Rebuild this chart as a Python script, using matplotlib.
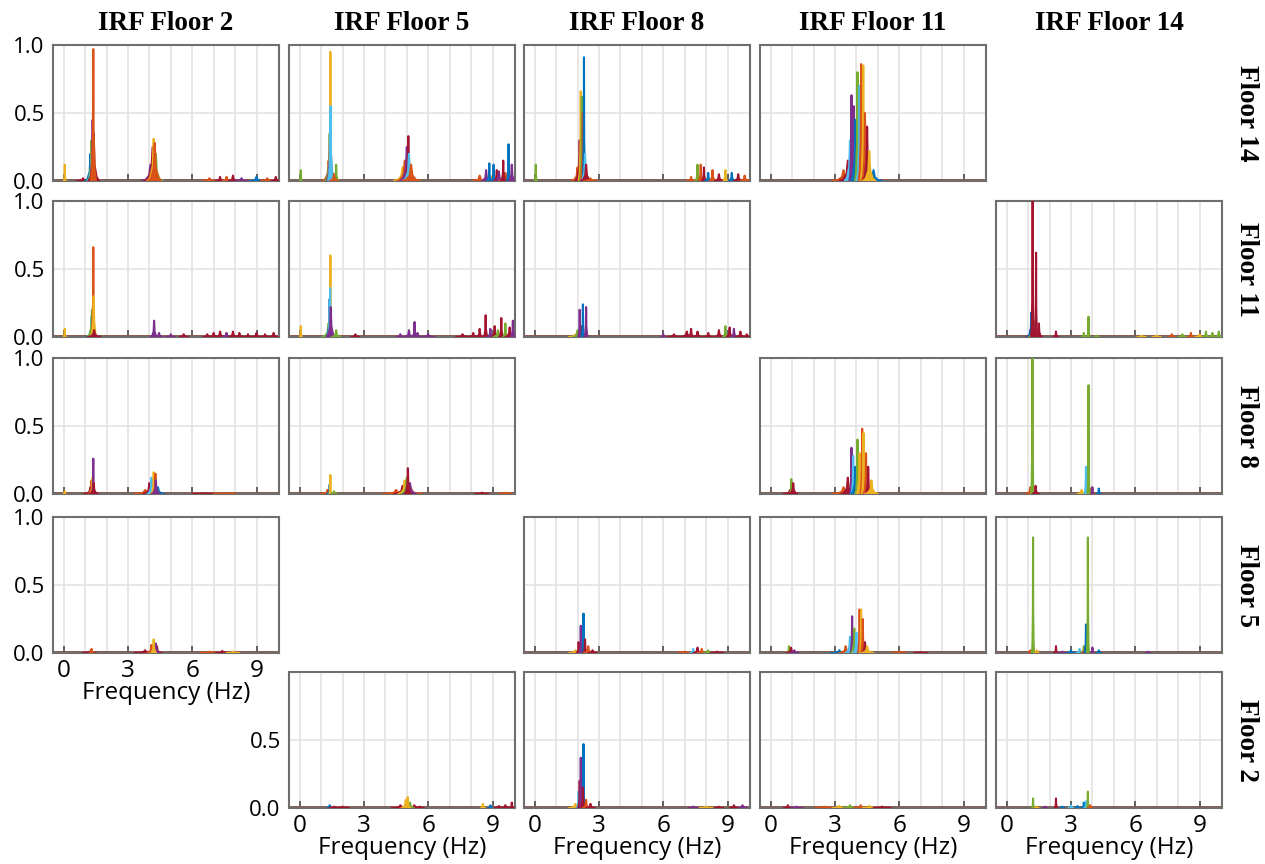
import numpy as np
import matplotlib
matplotlib.use('Agg')
import matplotlib.pyplot as plt

# MATLAB-like line colours
COLORS = ['#0072BD', '#D95319', '#EDB120', '#7E2F8E', '#77AC30', '#4DBEEE', '#A2142F']

col_titles = ['IRF Floor 2', 'IRF Floor 5', 'IRF Floor 8', 'IRF Floor 11', 'IRF Floor 14']
row_titles = ['Floor 14', 'Floor 11', 'Floor 8', 'Floor 5', 'Floor 2']
x_ticks = [0, 3, 6, 9]

# peaks: (frequency Hz, amplitude, half base width Hz, colour index)
f14_i2 = [(0.05, 0.12, 0.05, 2), (0.9, 0.02, 0.3, 6),
          (1.25, 0.20, 0.25, 0), (1.30, 0.30, 0.20, 4), (1.33, 0.25, 0.22, 5), (1.35, 0.45, 0.15, 3),
          (1.40, 0.35, 0.25, 6), (1.38, 0.97, 0.12, 1),
          (4.18, 0.05, 0.4, 0), (4.22, 0.08, 0.4, 5), (4.05, 0.12, 0.4, 3), (4.15, 0.25, 0.35, 6),
          (4.30, 0.20, 0.3, 4), (4.20, 0.31, 0.3, 2), (4.25, 0.28, 0.3, 1),
          (6.8, 0.02, 0.3, 1), (7.3, 0.03, 0.2, 6), (7.6, 0.03, 0.2, 1), (7.9, 0.04, 0.2, 6),
          (8.3, 0.02, 0.3, 3), (9.0, 0.03, 0.3, 0), (9.5, 0.02, 0.3, 1), (9.9, 0.03, 0.2, 6)]
f14_i5 = [(0.05, 0.08, 0.05, 4),
          (1.35, 0.15, 0.3, 1), (1.45, 0.25, 0.25, 0), (1.40, 0.35, 0.2, 4), (1.43, 0.95, 0.08, 2),
          (1.42, 0.42, 0.15, 3), (1.44, 0.55, 0.12, 5),
          (1.7, 0.12, 0.12, 4), (1.6, 0.05, 0.2, 1),
          (5.05, 0.1, 0.5, 4), (4.8, 0.1, 0.4, 2), (4.9, 0.15, 0.35, 1), (5.0, 0.25, 0.3, 3),
          (5.07, 0.33, 0.2, 6), (5.1, 0.2, 0.3, 5), (5.2, 0.12, 0.4, 1),
          (8.4, 0.04, 0.3, 1), (9.0, 0.04, 0.4, 2), (8.7, 0.08, 0.2, 3), (8.85, 0.13, 0.1, 0),
          (9.05, 0.12, 0.1, 0), (9.2, 0.08, 0.15, 6), (9.3, 0.07, 0.2, 3), (9.6, 0.06, 0.3, 1),
          (9.5, 0.15, 0.1, 6), (9.75, 0.27, 0.08, 0), (9.9, 0.12, 0.15, 3)]
f14_i8 = [(0.05, 0.12, 0.05, 4),
          (2.2, 0.15, 0.35, 3), (2.0, 0.1, 0.3, 1), (2.1, 0.3, 0.2, 6), (2.15, 0.66, 0.1, 2),
          (2.2, 0.62, 0.1, 4), (2.25, 0.5, 0.12, 1), (2.3, 0.91, 0.06, 0), (2.35, 0.2, 0.2, 5),
          (2.4, 0.12, 0.25, 6), (2.6, 0.02, 0.3, 1),
          (7.3, 0.03, 0.2, 1), (7.6, 0.12, 0.1, 4), (7.75, 0.12, 0.12, 1), (7.9, 0.1, 0.1, 6),
          (8.1, 0.06, 0.15, 0), (8.3, 0.08, 0.15, 1), (8.6, 0.05, 0.2, 6), (8.9, 0.08, 0.1, 2),
          (9.2, 0.06, 0.15, 0), (9.5, 0.05, 0.2, 6), (9.8, 0.04, 0.2, 1)]
f14_i11 = [(3.4, 0.08, 0.5, 1), (4.8, 0.08, 0.4, 0), (4.2, 0.25, 0.5, 6), (3.6, 0.15, 0.4, 6),
           (3.7, 0.3, 0.25, 5), (3.77, 0.63, 0.1, 3), (3.88, 0.55, 0.1, 3), (3.95, 0.45, 0.2, 0),
           (4.05, 0.8, 0.12, 4), (4.15, 0.7, 0.15, 5), (4.22, 0.86, 0.12, 1), (4.32, 0.85, 0.12, 2),
           (4.4, 0.5, 0.15, 1), (4.5, 0.4, 0.2, 6), (4.6, 0.22, 0.3, 2)]

f11_i2 = [(0.05, 0.06, 0.05, 2),
          (1.35, 0.1, 0.3, 0), (1.3, 0.15, 0.2, 5), (1.32, 0.2, 0.2, 4), (1.38, 0.66, 0.08, 1),
          (1.4, 0.3, 0.15, 2), (1.42, 0.05, 0.3, 6),
          (4.22, 0.12, 0.15, 3), (4.45, 0.03, 0.2, 3), (5.0, 0.02, 0.2, 3), (5.6, 0.02, 0.2, 6),
          (6.7, 0.02, 0.2, 6), (7.0, 0.03, 0.2, 6), (7.3, 0.04, 0.2, 6), (7.6, 0.03, 0.2, 3),
          (7.9, 0.04, 0.2, 6), (8.2, 0.03, 0.2, 6), (8.6, 0.02, 0.2, 6), (9.0, 0.03, 0.2, 6),
          (9.4, 0.02, 0.2, 6), (9.8, 0.03, 0.2, 6)]
f11_i5 = [(0.05, 0.08, 0.05, 2),
          (1.35, 0.1, 0.3, 4), (1.4, 0.28, 0.15, 0), (1.43, 0.6, 0.06, 2), (1.42, 0.36, 0.12, 5),
          (1.45, 0.22, 0.2, 3), (1.7, 0.05, 0.2, 4), (2.6, 0.02, 0.2, 6),
          (4.7, 0.02, 0.2, 3), (5.1, 0.05, 0.2, 3), (5.36, 0.11, 0.1, 3), (5.5, 0.03, 0.2, 3),
          (6.0, 0.02, 0.3, 3),
          (7.6, 0.02, 0.3, 6), (8.1, 0.03, 0.2, 6), (8.4, 0.06, 0.15, 6), (8.68, 0.16, 0.1, 6),
          (8.9, 0.06, 0.15, 3), (9.1, 0.08, 0.15, 6), (9.25, 0.05, 0.2, 4), (9.41, 0.14, 0.1, 6),
          (9.6, 0.1, 0.1, 4), (9.8, 0.07, 0.2, 6), (9.95, 0.12, 0.1, 3)]
f11_i8 = [(1.9, 0.02, 0.3, 2), (2.2, 0.08, 0.25, 6), (2.0, 0.05, 0.2, 4), (2.1, 0.2, 0.08, 3),
          (2.25, 0.24, 0.06, 0), (2.4, 0.22, 0.08, 3),
          (6.0, 0.02, 0.1, 3), (6.5, 0.02, 0.3, 6), (7.1, 0.04, 0.3, 6), (7.3, 0.06, 0.15, 6),
          (7.6, 0.04, 0.2, 6), (8.1, 0.03, 0.2, 6), (8.6, 0.05, 0.2, 6), (8.9, 0.08, 0.1, 4),
          (9.1, 0.07, 0.15, 6), (9.3, 0.06, 0.15, 3), (9.6, 0.04, 0.2, 6), (9.9, 0.02, 0.2, 6)]
f11_i14 = [(1.1, 0.05, 0.2, 3), (1.15, 0.18, 0.15, 0), (1.25, 0.12, 0.2, 4), (1.21, 1.05, 0.07, 6),
           (1.37, 0.62, 0.06, 6), (1.5, 0.1, 0.15, 6),
           (2.3, 0.04, 0.12, 6), (3.6, 0.03, 0.1, 4), (3.82, 0.15, 0.06, 4), (4.2, 0.01, 0.1, 4),
           (6.3, 0.01, 0.2, 2), (7.0, 0.01, 0.2, 2), (7.7, 0.02, 0.15, 1), (8.2, 0.02, 0.2, 4),
           (8.6, 0.03, 0.15, 1), (9.0, 0.02, 0.2, 2), (9.3, 0.04, 0.15, 4), (9.6, 0.03, 0.15, 4),
           (9.9, 0.04, 0.15, 4)]

f8_i2 = [(0.05, 0.02, 0.05, 2),
         (1.25, 0.05, 0.3, 6), (1.3, 0.1, 0.15, 1), (1.35, 0.12, 0.12, 2), (1.38, 0.26, 0.06, 3),
         (1.4, 0.08, 0.2, 6),
         (3.8, 0.03, 0.5, 1), (4.4, 0.05, 0.3, 0), (4.0, 0.08, 0.3, 6), (4.1, 0.12, 0.2, 5),
         (4.2, 0.16, 0.12, 2), (4.28, 0.15, 0.12, 1), (4.3, 0.1, 0.2, 3),
         (6.5, 0.005, 0.5, 6), (7.5, 0.005, 0.5, 1)]
f8_i5 = [(1.3, 0.03, 0.3, 1), (1.4, 0.07, 0.12, 0), (1.43, 0.14, 0.05, 2), (1.6, 0.02, 0.15, 4),
         (4.5, 0.03, 0.6, 1), (5.2, 0.04, 0.5, 1), (4.8, 0.06, 0.4, 6), (4.9, 0.1, 0.3, 2),
         (5.0, 0.12, 0.25, 4), (5.15, 0.08, 0.3, 3), (5.05, 0.19, 0.15, 6),
         (8.5, 0.01, 0.3, 6), (9.6, 0.01, 0.3, 1)]
f8_i11 = [(0.9, 0.03, 0.3, 6), (0.96, 0.11, 0.08, 4), (1.05, 0.08, 0.2, 6),
          (4.0, 0.08, 0.6, 0), (3.4, 0.05, 0.5, 1), (4.1, 0.15, 0.4, 5), (3.6, 0.12, 0.3, 6),
          (3.77, 0.34, 0.08, 3), (3.85, 0.28, 0.1, 5), (3.95, 0.2, 0.2, 0), (4.05, 0.4, 0.1, 4),
          (4.15, 0.3, 0.15, 2), (4.27, 0.48, 0.08, 1), (4.33, 0.45, 0.08, 2), (4.45, 0.3, 0.12, 1),
          (4.55, 0.2, 0.15, 6), (4.7, 0.1, 0.3, 2)]
f8_i14 = [(1.1, 0.05, 0.2, 1), (1.2, 1.05, 0.06, 4), (1.35, 0.06, 0.15, 6),
          (3.5, 0.03, 0.2, 2), (3.9, 0.04, 0.2, 1), (3.75, 0.18, 0.1, 0), (3.7, 0.2, 0.08, 5),
          (3.82, 0.8, 0.05, 4), (4.0, 0.05, 0.06, 3), (4.3, 0.04, 0.1, 0)]

f5_i2 = [(1.2, 0.01, 0.3, 6), (1.3, 0.03, 0.1, 1),
         (3.8, 0.02, 0.5, 6), (4.35, 0.05, 0.2, 6), (4.1, 0.06, 0.2, 1), (4.3, 0.07, 0.15, 3),
         (4.2, 0.1, 0.12, 2),
         (6.8, 0.01, 0.4, 1), (7.4, 0.015, 0.3, 6), (7.9, 0.01, 0.3, 2)]
f5_i8 = [(1.9, 0.02, 0.3, 2), (2.05, 0.08, 0.1, 6), (2.15, 0.2, 0.06, 3), (2.28, 0.29, 0.05, 0),
         (2.35, 0.1, 0.1, 6), (2.5, 0.05, 0.2, 1), (2.7, 0.02, 0.2, 6),
         (7.0, 0.01, 0.3, 1), (7.4, 0.03, 0.15, 5), (7.6, 0.04, 0.2, 6), (7.8, 0.03, 0.2, 1),
         (8.1, 0.02, 0.2, 4), (8.5, 0.01, 0.3, 6)]
f5_i11 = [(0.85, 0.05, 0.1, 4), (0.95, 0.04, 0.2, 6), (1.1, 0.02, 0.2, 3),
          (3.2, 0.02, 0.4, 0), (3.5, 0.05, 0.3, 1), (3.7, 0.12, 0.2, 5), (3.8, 0.27, 0.08, 3),
          (3.9, 0.18, 0.15, 4), (4.0, 0.15, 0.15, 5), (4.15, 0.32, 0.08, 1), (4.22, 0.32, 0.06, 2),
          (4.3, 0.25, 0.1, 1), (4.4, 0.08, 0.2, 6), (4.5, 0.05, 0.3, 2),
          (6.0, 0.01, 0.3, 1), (7.0, 0.005, 0.3, 6)]
f5_i14 = [(1.1, 0.02, 0.1, 1), (1.23, 0.85, 0.05, 4), (1.4, 0.02, 0.1, 2),
          (2.3, 0.05, 0.08, 6), (2.6, 0.01, 0.2, 3), (3.0, 0.02, 0.2, 0), (3.4, 0.03, 0.15, 5),
          (3.6, 0.05, 0.15, 4), (3.65, 0.04, 0.15, 1), (3.7, 0.21, 0.08, 0), (3.79, 0.85, 0.05, 4),
          (4.0, 0.04, 0.08, 3), (4.3, 0.02, 0.1, 0), (6.6, 0.01, 0.1, 3)]

f2_i5 = [(1.4, 0.02, 0.1, 0), (1.6, 0.01, 0.2, 6), (2.0, 0.01, 0.3, 6),
         (4.7, 0.02, 0.4, 6), (5.35, 0.02, 0.3, 6), (5.15, 0.04, 0.2, 4), (4.95, 0.06, 0.2, 2),
         (5.04, 0.08, 0.12, 2), (5.6, 0.01, 0.2, 6),
         (8.55, 0.03, 0.1, 2), (8.9, 0.02, 0.1, 0), (9.3, 0.015, 0.2, 6), (9.6, 0.02, 0.2, 6),
         (9.9, 0.04, 0.1, 6)]
f2_i8 = [(1.9, 0.03, 0.3, 2), (2.05, 0.12, 0.1, 5), (2.1, 0.2, 0.08, 6), (2.15, 0.37, 0.05, 3),
         (2.28, 0.47, 0.05, 0), (2.25, 0.15, 0.12, 6), (2.4, 0.06, 0.15, 1), (2.6, 0.03, 0.2, 6),
         (7.4, 0.01, 0.2, 3), (8.0, 0.01, 0.3, 2), (8.6, 0.01, 0.2, 6), (9.3, 0.02, 0.2, 6),
         (9.7, 0.02, 0.2, 3)]
f2_i11 = [(0.8, 0.02, 0.2, 6), (1.2, 0.01, 0.3, 3), (2.5, 0.01, 0.4, 1), (3.2, 0.015, 0.3, 2),
          (3.7, 0.02, 0.3, 4), (4.2, 0.02, 0.3, 1), (4.6, 0.015, 0.3, 2), (5.2, 0.01, 0.4, 6)]
f2_i14 = [(1.23, 0.07, 0.05, 4), (1.4, 0.01, 0.1, 2), (1.8, 0.01, 0.1, 3),
          (2.3, 0.07, 0.06, 6), (2.6, 0.01, 0.1, 0), (3.0, 0.02, 0.1, 5), (3.3, 0.015, 0.1, 0),
          (3.6, 0.04, 0.1, 0), (3.7, 0.05, 0.08, 5), (3.79, 0.12, 0.05, 4), (3.9, 0.02, 0.1, 1)]

# rows top->bottom (Floor 14 ... Floor 2), columns IRF 2 ... IRF 14; None = no panel
grid_data = [
    [f14_i2, f14_i5, f14_i8, f14_i11, None],
    [f11_i2, f11_i5, f11_i8, None, f11_i14],
    [f8_i2, f8_i5, None, f8_i11, f8_i14],
    [f5_i2, None, f5_i8, f5_i11, f5_i14],
    [None, f2_i5, f2_i8, f2_i11, f2_i14],
]

# spike profile used to draw each peak
shape_x = np.array([-1, -0.55, -0.15, 0, 0.15, 0.55, 1])
shape_y = np.array([0, 0.08, 0.35, 1, 0.35, 0.08, 0])

W, H = 1265, 864
fig = plt.figure(figsize=(W / 100, H / 100), dpi=100)
col_left = [53, 289, 524, 760, 996]
row_top = [45, 201, 358, 517, 672]
pw, ph = 226, 136
tick_font = 'Open Sans'
title_font = 'Liberation Serif'
spine_col = '#6e6e6e'

for r in range(5):
    for c in range(5):
        peaks = grid_data[r][c]
        if peaks is None:
            continue
        ax = fig.add_axes([col_left[c] / W, 1 - (row_top[r] + ph) / H, pw / W, ph / H])
        ax.axhline(0.005, color='#8a5a4a', lw=1.4, zorder=2)
        for f, a, w, ci in peaks:
            ax.fill(f + w * shape_x, a * shape_y, color=COLORS[ci], lw=1.5,
                    joinstyle='round', zorder=3)
        ax.set_xlim(-0.5, 10.05)
        ax.set_ylim(0, 1.0)
        ax.set_xticks(x_ticks)
        ax.set_xticks(range(10), minor=True)
        ax.set_yticks([0, 0.5, 1.0])
        ax.grid(True, which='both', axis='x', color='#e3e3e3', lw=1.2, zorder=0)
        ax.grid(True, which='major', axis='y', color='#e3e3e3', lw=1.2, zorder=0)
        ax.set_axisbelow(True)
        ax.tick_params(axis='x', which='major', direction='in', length=5, width=1.3,
                       color='#555555', pad=4)
        ax.tick_params(axis='x', which='minor', length=0)
        ax.tick_params(axis='y', length=0, pad=6)
        for sp in ax.spines.values():
            sp.set_color(spine_col)
            sp.set_linewidth(1.5)
        first_in_row = all(grid_data[r][k] is None for k in range(c))
        if first_in_row:
            if r == 4:
                ax.set_yticks([0, 0.5])
            ax.set_yticklabels(['%.1f' % v for v in ax.get_yticks()],
                               fontfamily=tick_font, fontsize=16)
        else:
            ax.set_yticklabels([])
        last_in_col = all(grid_data[k][c] is None for k in range(r + 1, 5))
        if last_in_col:
            ax.set_xticklabels([str(t) for t in x_ticks], fontfamily=tick_font, fontsize=17.5)
            ax.set_xlabel('Frequency (Hz)', fontfamily=tick_font, fontsize=17.5, labelpad=-1)
        else:
            ax.set_xticklabels([])

for c, t in enumerate(col_titles):
    fig.text((col_left[c] + pw / 2) / W, 1 - 24 / H, t, ha='center', va='center',
             fontfamily=title_font, fontweight='bold', fontsize=19.5)
for r, t in enumerate(row_titles):
    fig.text(1247 / W, 1 - (row_top[r] + ph / 2) / H, t, ha='center', va='center',
             rotation=270, fontfamily=title_font, fontweight='bold', fontsize=19.5)

fig.savefig('out.png', dpi=100, facecolor='white')
